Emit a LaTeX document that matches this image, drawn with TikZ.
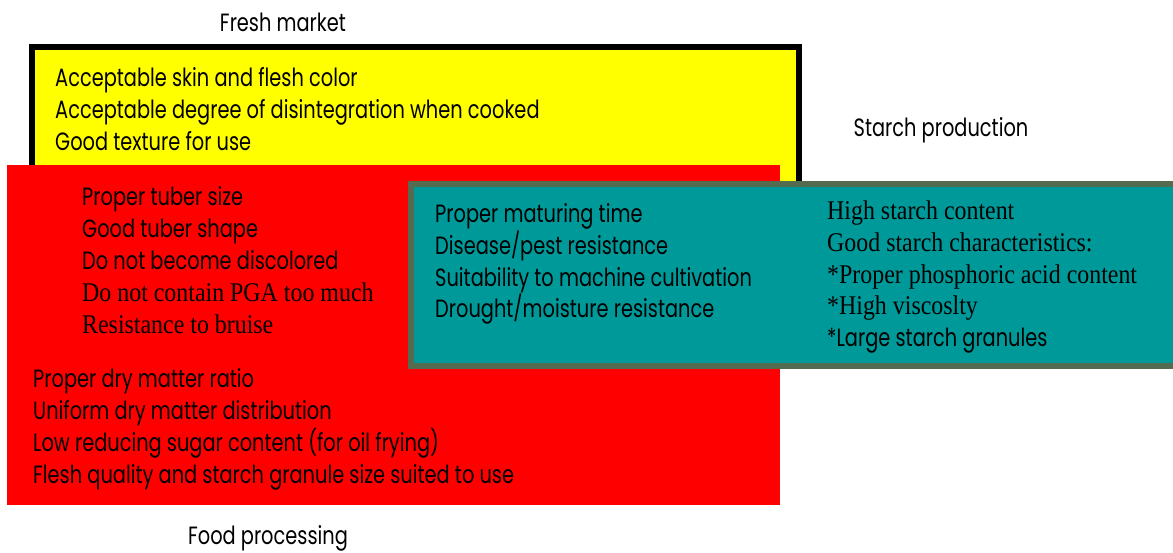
\documentclass[tikz,border=0pt]{standalone}
\usepackage{fontspec}
\setmainfont{Liberation Serif}
\newfontfamily\gothicfont[FakeStretch=0.775]{Poppins}
\newfontfamily\oldserif[FakeStretch=0.885]{Liberation Serif}
\definecolor{boxyellow}{HTML}{FFFF00}
\definecolor{boxred}{HTML}{FF0000}
\definecolor{boxteal}{HTML}{009999}
\definecolor{tealedge}{HTML}{556B4F}
\begin{document}
\begin{tikzpicture}[x=1pt,y=-1pt,
  sanst/.style={anchor=base west,inner sep=0pt,font=\gothicfont\fontsize{25}{30}\selectfont},
  serift/.style={anchor=base west,inner sep=0pt,font=\oldserif\fontsize{27}{32}\selectfont},
  titlet/.style={anchor=base,inner sep=0pt,font=\gothicfont\fontsize{25}{30}\selectfont}]
\useasboundingbox (0,0) rectangle (1173,553);
\clip (0,0) rectangle (1173,553);
% boxes
\fill[boxyellow] (32,47) rectangle (799,300);
\draw[line width=6pt] (32,47) rectangle (799,300);
\fill[boxred] (7,165) rectangle (780,505);
\fill[boxteal] (411,184) rectangle (1185,366);
\draw[tealedge,line width=6pt] (411,184) rectangle (1185,366);
% titles
\node[titlet] (fresh) at (283,32) {Fresh market};
\node[titlet] (starch) at (941,137) {Starch production};
\node[titlet] (food) at (268,544) {Food processing};
% fresh market
\node[sanst] (f1) at (55,87) {Acceptable skin and flesh color};
\node[sanst] (f2) at (55,119) {Acceptable degree of disintegration when cooked};
\node[sanst] (f3) at (55,151) {Good texture for use};
% shared fresh/food
\node[sanst] (s1) at (82,206) {Proper tuber size};
\node[sanst] (s2) at (82,238) {Good tuber shape};
\node[sanst] (s3) at (82,270) {Do not become discolored};
\node[serift] (s4) at (82,302) {Do not contain PGA too much};
\node[serift] (s5) at (82,334) {Resistance to bruise};
% food processing
\node[sanst] (p1) at (33,387) {Proper dry matter ratio};
\node[sanst] (p2) at (33,419) {Uniform dry matter distribution};
\node[sanst] (p3) at (33,451) {Low reducing sugar content (for oil frying)};
\node[sanst] (p4) at (33,483) {Flesh quality and starch granule size suited to use};
% common to all
\node[sanst] (c1) at (435,223) {Proper maturing time};
\node[sanst] (c2) at (435,255) {Disease/pest resistance};
\node[sanst] (c3) at (435,287) {Suitability to machine cultivation};
\node[sanst] (c4) at (435,318) {Drought/moisture resistance};
% starch production
\node[serift] (t1) at (827,220) {High starch content};
\node[serift] (t2) at (827,252) {Good starch characteristics:};
\node[serift] (t3) at (827,284) {*Proper phosphoric acid content};
\node[serift] (t4) at (827,315) {*High viscoslty};
\node[sanst] (t5) at (827,347) {*Large starch granules};
\end{tikzpicture}
\end{document}
